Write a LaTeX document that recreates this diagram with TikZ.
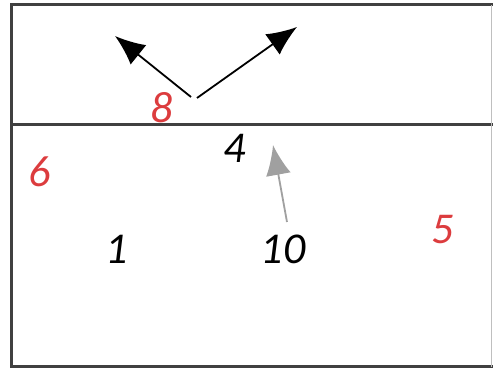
\documentclass[tikz,border=0pt]{standalone}
\usepackage{fontspec}
\setmainfont{Carlito}
\usetikzlibrary{arrows.meta}
\definecolor{numred}{RGB}{220,60,62}
\definecolor{arrowgray}{RGB}{160,160,160}
\begin{document}
\begin{tikzpicture}[x=1pt, y=-1pt,
			num node/.style={font=\fontsize{44}{48}\selectfont\itshape, inner sep=0pt},
			red num/.style={num node, text=numred},
			frame line/.style={line width=3pt, draw=black!75},
			move arrow/.style={line width=1.8pt, -{Latex[length=30pt, width=25pt]}}
			]
			\useasboundingbox (0,0) rectangle (493,371);
			% outline, open on the right
			\coordinate (TL) at (11,5);
			\coordinate (TR) at (495,5);
			\coordinate (BL) at (11,367);
			\coordinate (BR) at (495,367);
			\coordinate (ML) at (11,125);
			\coordinate (MR) at (495,125);
			\draw[frame line] (TR) -- (TL) -- (BL) -- (BR);
			\draw[frame line] (ML) -- (MR);
			\draw[line width=0.6pt, black!25] (491.5,5) -- (491.5,367);
			
			\node[red num] (n8) at (162,108) {8};
			\node[num node] (n4) at (235,148) {4};
			\node[red num] (n6) at (40,172) {6};
			\node[num node] (n1) at (117,249) {1};
			\node[num node] (n10) at (283,249) {10};
			\node[red num] (n5) at (443,230) {5};
			
			\coordinate (S1) at (191,97);
			\coordinate (S2) at (197,98);
			\coordinate (E1) at (115,36);
			\coordinate (E2) at (297,27);
			\draw[move arrow] (S1) -- (E1);
			\draw[move arrow] (S2) -- (E2);
			
			\coordinate (G1) at (287,222);
			\coordinate (G2) at (273,145);
			\draw[move arrow, arrowgray] (G1) -- (G2);
		\end{tikzpicture}
\end{document}
